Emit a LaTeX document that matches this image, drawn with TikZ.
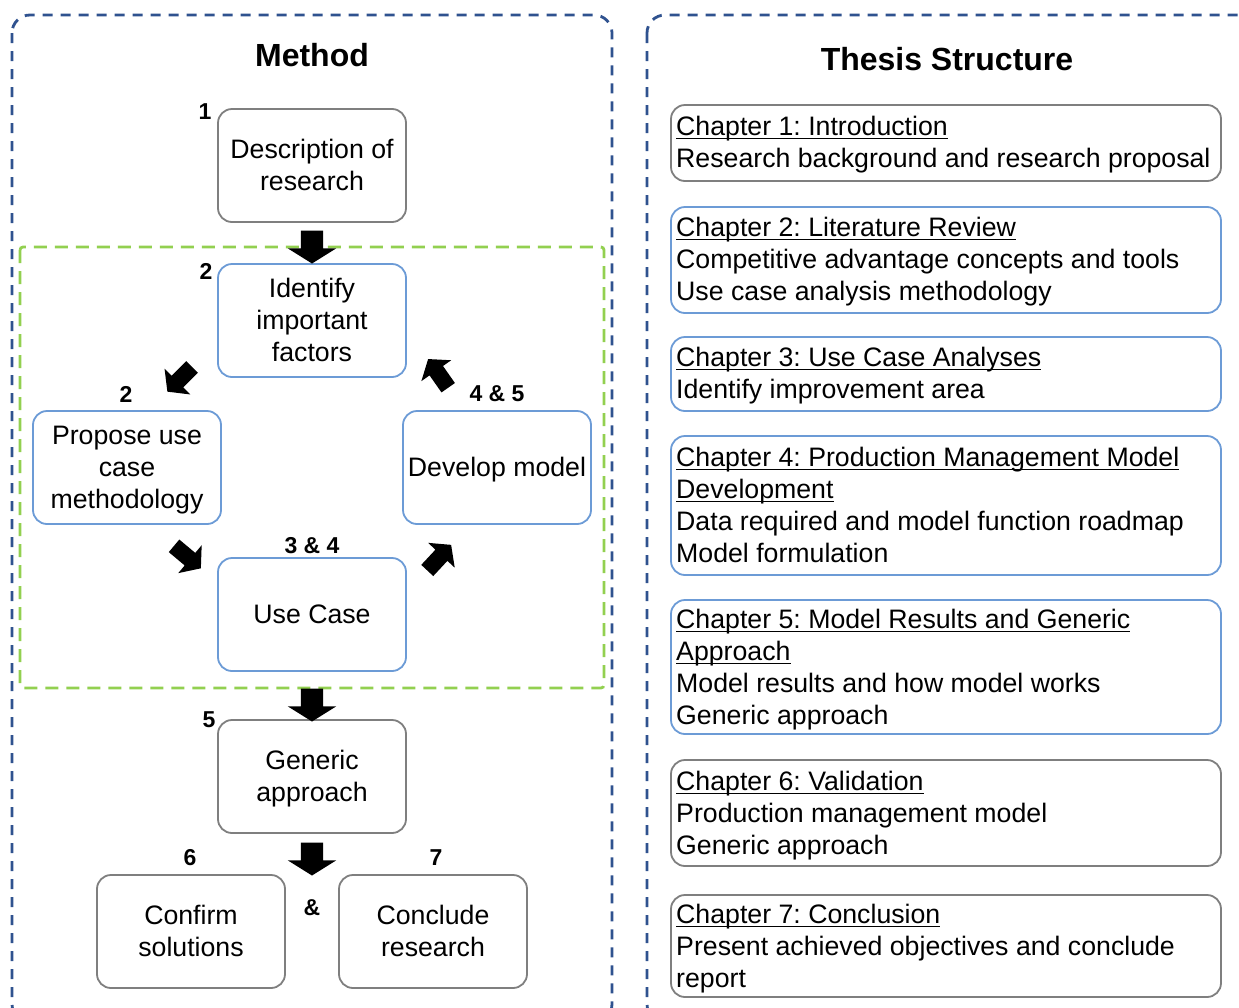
\documentclass[tikz,border=0pt]{standalone}
\usepackage{fontspec}
\setmainfont{Liberation Sans}
\usetikzlibrary{shapes.arrows}
\definecolor{frameblue}{RGB}{47,82,143}
\definecolor{zonegreen}{RGB}{146,208,80}
\definecolor{boxgray}{RGB}{127,127,127}
\definecolor{boxblue}{RGB}{108,155,214}
\frenchspacing
% underline drawn at a fixed depth below the baseline
\newcommand{\chund}[1]{\setbox0\hbox{#1}\rlap{\rule[-4pt]{\wd0}{1.5pt}}\box0}
% line strut balanced around the middle of the capitals
\newcommand{\lstrut}{\rule[-7.5pt]{0pt}{32pt}}
\begin{document}
\begin{tikzpicture}[x=1pt,y=-1pt,
  stagebox/.style={draw, rounded corners=14pt, line width=1.8pt,
    minimum width=188pt, minimum height=113pt, align=center, inner sep=0pt,
    font=\fontsize{26.7}{32}\selectfont},
  graystage/.style={stagebox, draw=boxgray},
  bluestage/.style={stagebox, draw=boxblue},
  num/.style={font=\fontsize{23}{26}\selectfont\bfseries, inner sep=0pt},
  heading/.style={font=\fontsize{32}{36}\selectfont\bfseries, inner sep=0pt},
  chapbox/.style={draw, rounded corners=14pt, line width=1.8pt,
    minimum width=550pt, inner sep=0pt},
  graychap/.style={chapbox, draw=boxgray},
  bluechap/.style={chapbox, draw=boxblue},
  chaptext/.style={anchor=north west, align=left, inner sep=0pt,
    font=\fontsize{26.7}{32}\selectfont},
  blockarrow/.style={single arrow, fill=black, draw=none,
    inner xsep=0pt, inner ysep=11pt,
    minimum height=33pt, minimum width=48pt,
    single arrow head extend=13pt, single arrow tip angle=116},
  smallarrow/.style={single arrow, fill=black, draw=none,
    inner xsep=0pt, inner ysep=8pt,
    minimum height=35pt, minimum width=36pt,
    single arrow head extend=10pt, single arrow tip angle=104},
  framedash/.style={draw=frameblue, line width=2.8pt, dash pattern=on 10pt off 8pt,
    rounded corners=18pt},
  zonedash/.style={draw=zonegreen, line width=2.8pt, dash pattern=on 13pt off 8pt,
    rounded corners=3pt},
]
\useasboundingbox (0,0) rectangle (1239,1007);

% outer frames
\draw[framedash] (12,15) rectangle (612,1022);
\draw[framedash] (647,15) rectangle (1270,1022);

% loop zone
\draw[zonedash] (20,247) rectangle (604,688);

% ---------- method ----------
\node[heading] (mtitle) at (312,55) {Method};

\node[graystage] (desc) at (312,165.5) {\lstrut Description of\\\lstrut research};
\node[bluestage] (ident) at (312,320.5) {\lstrut Identify\\\lstrut important\\\lstrut factors};
\node[bluestage] (prop) at (127,467.5) {\lstrut Propose use\\\lstrut case\\\lstrut methodology};
\node[bluestage] (devel) at (497,467.5) {\lstrut Develop model};
\node[bluestage] (usec) at (312,614.5) {\lstrut Use Case};
\node[graystage] (gener) at (312,776.5) {\lstrut Generic\\\lstrut approach};
\node[graystage] (confirm) at (191,931.5) {\lstrut Confirm\\\lstrut solutions};
\node[graystage] (conclude) at (433,931.5) {\lstrut Conclude\\\lstrut research};

\node[num] (n1) at (205,112) {1};
\node[num] (n2a) at (206,271) {2};
\node[num] (n2b) at (126,394) {2};
\node[num] (n45) at (497,394) {4 \& 5};
\node[num] (n34) at (312,546) {3 \& 4};
\node[num] (n5) at (209,720) {5};
\node[num] (n6) at (190,858) {6};
\node[num] (n7) at (436,858) {7};
\node[num] (amp) at (312,908) {\&};

% block arrows between stages
\node[blockarrow, rotate=-90] (a1) at (312,243.5) {};
\node[blockarrow, rotate=-90] (a2) at (312,701.5) {};
\node[blockarrow, rotate=-90] (a3) at (312,855.5) {};

\node[smallarrow, rotate=225] (d1) at (182,377) {};
\node[smallarrow, rotate=-40] (d2) at (185,555) {};
\node[smallarrow, rotate=47] (d3) at (437,560) {};
\node[smallarrow, rotate=125] (d4) at (440,376) {};

% ---------- thesis structure ----------
\node[heading] (ttitle) at (947,59) {Thesis Structure};

\node[graychap, minimum height=76pt] (c1) at (946,143) {};
\node[bluechap, minimum height=106pt] (c2) at (946,260) {};
\node[bluechap, minimum height=74pt] (c3) at (946,374) {};
\node[bluechap, minimum height=139pt] (c4) at (946,505.5) {};
\node[bluechap, minimum height=134pt] (c5) at (946,667) {};
\node[graychap, minimum height=106pt] (c6) at (946,813) {};
\node[graychap, minimum height=102pt] (c7) at (946,946) {};

\node[chaptext] (t1) at (676,115.5) {\chund{Chapter 1: Introduction}\\Research background and research proposal};
\node[chaptext] (t2) at (676,216.5) {\chund{Chapter 2: Literature Review}\\Competitive advantage concepts and tools\\Use case analysis methodology};
\node[chaptext] (t3) at (676,346.5) {\chund{Chapter 3: Use Case Analyses}\\Identify improvement area};
\node[chaptext] (t4) at (676,446.5) {\chund{Chapter 4: Production Management Model}\\\chund{Development}\\Data required and model function roadmap\\Model formulation};
\node[chaptext] (t5) at (676,608.5) {\chund{Chapter 5: Model Results and Generic}\\\chund{Approach}\\Model results and how model works\\Generic approach};
\node[chaptext] (t6) at (676,770.5) {\chund{Chapter 6: Validation}\\Production management model\\Generic approach};
\node[chaptext] (t7) at (676,903.5) {\chund{Chapter 7: Conclusion}\\Present achieved objectives and conclude\\report};
\end{tikzpicture}
\end{document}
